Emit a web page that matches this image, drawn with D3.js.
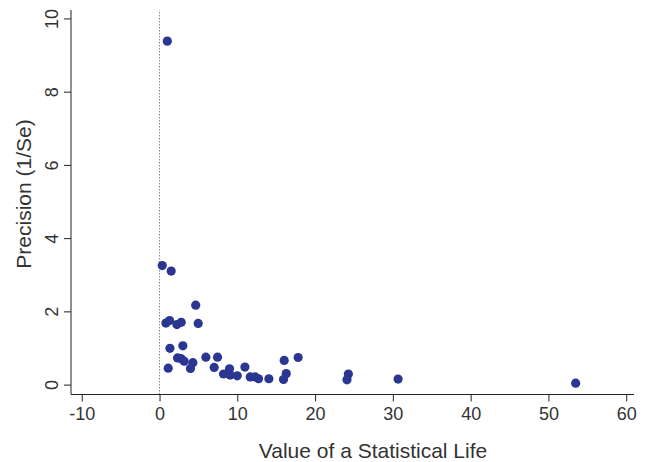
<!DOCTYPE html>
<html>
<head>
<meta charset="utf-8">
<script src="https://cdn.jsdelivr.net/npm/d3@7"></script>
<style>
  body { margin: 0; background: #fff; }
  svg { font-family: "Liberation Sans", Arial, sans-serif; }
  .axis path, .axis line { stroke: #222; }
  .axis text { fill: #333; font-size: 18px; }
</style>
</head>
<body>
<svg width="648" height="462"></svg>
<script>
// value of a statistical life estimates and their precision
const vsl = [1.0, 0.35, 1.5, 4.65, 0.82, 1.29, 2.23, 2.79, 4.97, 1.34, 3.0, 1.12,
             2.32, 2.75, 3.17, 4.29, 3.98, 5.96, 7.46, 7.03, 8.23, 9.0, 9.09, 9.99,
             10.98, 11.66, 12.3, 12.73, 14.06, 16.03, 16.29, 15.94, 17.82, 24.28,
             24.1, 30.67, 53.5];
const precision = [9.38, 3.25, 3.1, 2.17, 1.68, 1.75, 1.64, 1.70, 1.67, 0.99, 1.06, 0.45,
                   0.73, 0.71, 0.64, 0.60, 0.44, 0.75, 0.75, 0.47, 0.29, 0.43, 0.26, 0.24,
                   0.48, 0.21, 0.21, 0.16, 0.16, 0.66, 0.30, 0.14, 0.74, 0.29,
                   0.13, 0.15, 0.04];
const xTicks = [-10, 0, 10, 20, 30, 40, 50, 60];
const yTicks = [0, 2, 4, 6, 8, 10];

const svg = d3.select("svg");

const x = d3.scaleLinear().domain([-11.38, 61.0]).range([71, 634]);
const y = d3.scaleLinear().domain([-0.27, 10.23]).range([394.5, 10]);

// reference line at zero
svg.append("line")
    .attr("x1", x(0)).attr("x2", x(0))
    .attr("y1", y.range()[0]).attr("y2", y.range()[1])
    .attr("stroke", "#888")
    .attr("stroke-width", 1)
    .attr("stroke-dasharray", "1.5,1.5");

const xAxis = svg.append("g")
    .attr("class", "axis")
    .attr("transform", "translate(0,394.5)")
    .call(d3.axisBottom(x).tickValues(xTicks).tickSize(7).tickSizeOuter(0).tickPadding(6)
        .tickFormat(d => String(d)));
xAxis.select(".domain").attr("d", "M71,0H634");

const yAxis = svg.append("g")
    .attr("class", "axis")
    .attr("transform", "translate(71,0)")
    .call(d3.axisLeft(y).tickValues(yTicks).tickSize(7).tickSizeOuter(0));
yAxis.select(".domain").attr("d", "M0,10V394.5");
yAxis.selectAll(".tick text")
    .attr("x", null).attr("dy", null)
    .attr("text-anchor", "middle")
    .attr("transform", "translate(-13,0) rotate(-90)");

svg.selectAll("circle.pt")
    .data(vsl)
    .enter()
    .append("circle")
        .attr("class", "pt")
        .attr("cx", d => x(d))
        .attr("cy", (d, i) => y(precision[i]))
        .attr("r", 4.6)
        .attr("fill", "#2b3592");

svg.append("text")
    .attr("x", 373).attr("y", 458)
    .attr("text-anchor", "middle")
    .attr("font-size", 21)
    .attr("fill", "#333")
    .text("Value of a Statistical Life");

svg.append("text")
    .attr("transform", "translate(31,194) rotate(-90)")
    .attr("text-anchor", "middle")
    .attr("font-size", 21)
    .attr("fill", "#333")
    .text("Precision (1/Se)");
</script>
</body>
</html>
